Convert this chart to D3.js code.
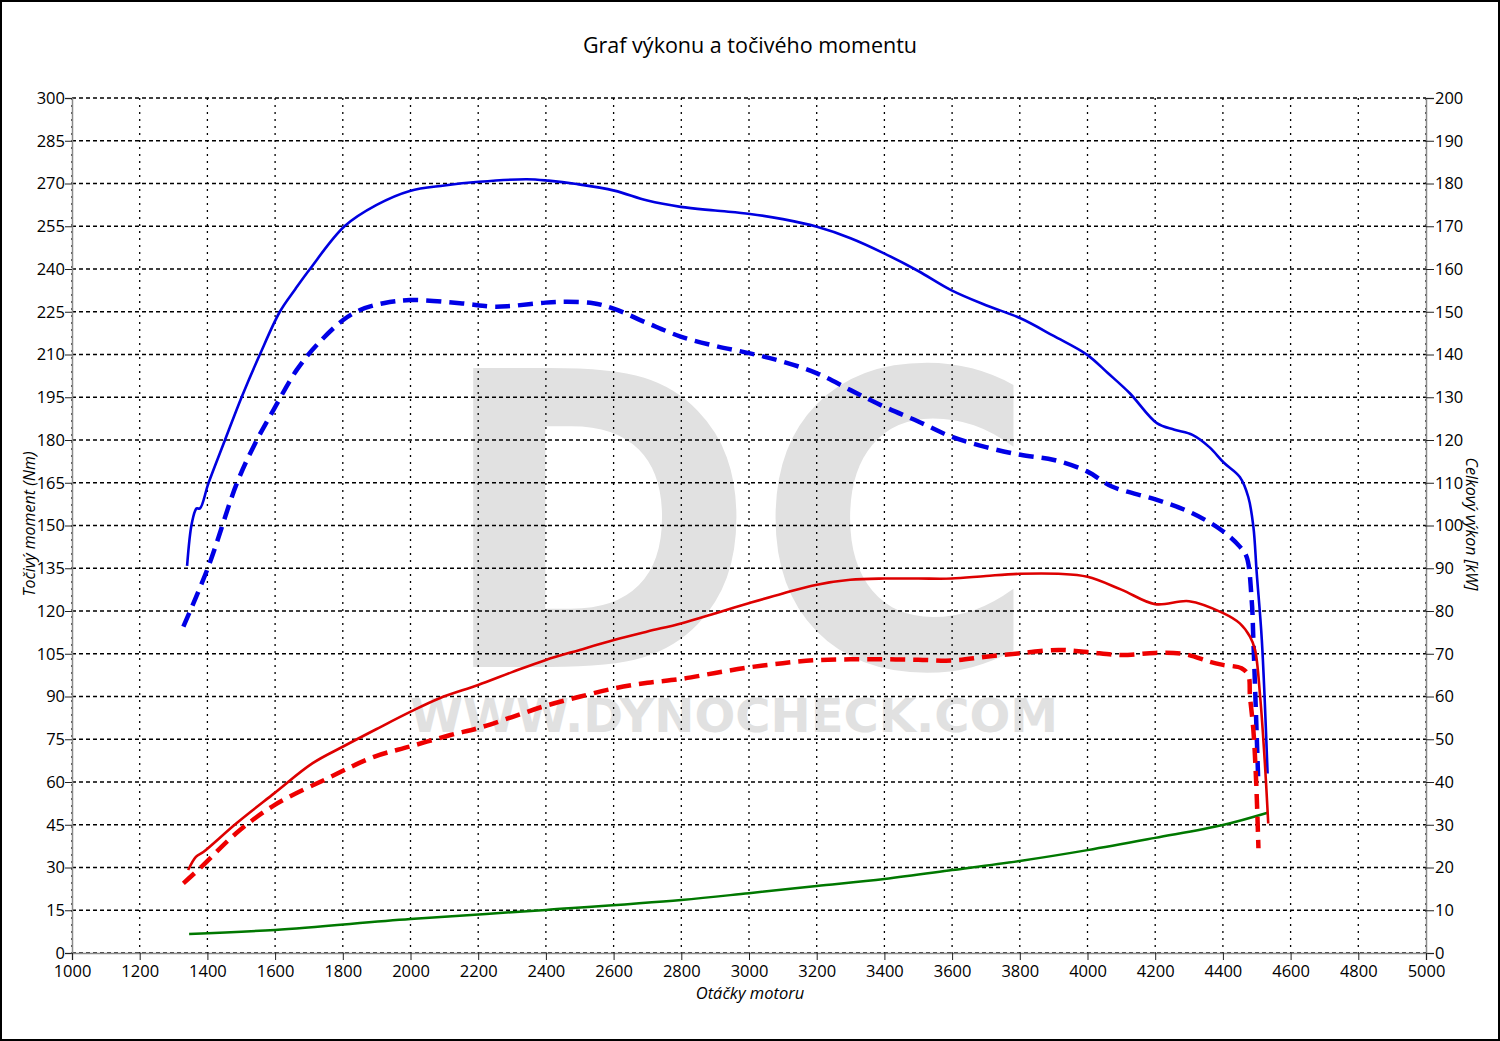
<!DOCTYPE html>
<html>
<head>
<meta charset="utf-8">
<script src="https://cdn.jsdelivr.net/npm/d3@7"></script>
<style>
  body { margin: 0; background: #fff; }
  text { font-family: "Open Sans", "Noto Sans", sans-serif; }
</style>
</head>
<body>
<div id="chart"></div>
<script>
// tick values
var rpmTicks = d3.range(1000, 5001, 200);
var torqueTicks = d3.range(0, 301, 15);
var powerTicks = d3.range(0, 201, 10);

// tuned torque (Nm) - solid blue
var torqueTunedRpm = [1340,1354,1368,1378,1403,1452,1501,1555,1614,1660,1703,1805,1900,1998,2100,2202,2343,2408,2491,2602,2700,2798,2900,3003,3100,3201,3300,3399,3500,3597,3700,3802,3900,4000,4060,4125,4205,4257,4310,4360,4403,4450,4475,4490,4500,4515,4532];
var torqueTuned = [135.8,150.8,156,156,164.8,180,195,210,225,233,240,255,262.5,267.4,269.3,270.6,271.5,271,269.8,267.5,264,261.8,260.5,259.3,257.5,254.8,250.8,245.5,239.3,232.6,227.3,222.7,216.5,209.8,203.5,196.4,185.9,183.6,181.8,177.5,172,167,160,149.6,133.2,109.8,63];

// stock torque (Nm) - dashed blue
var torqueStockRpm = [1329,1403,1487,1541,1595,1664,1723,1801,1851,1920,1998,2146,2245,2294,2399,2461,2540,2602,2700,2798,2900,3003,3100,3201,3300,3399,3500,3597,3700,3802,3901,4000,4072,4205,4310,4400,4450,4470,4485,4490,4504];
var torqueStock = [114.5,135.6,164.8,178.8,190.5,204.6,213.3,222.1,225.6,228,229.1,228,226.8,227,228.2,228.5,228,226,221,216.3,213,210.4,207.5,203.4,197.5,191.7,186.5,181.2,177.5,174.8,173,168.9,163.7,159,154.3,148,142.6,139,123.9,109.8,61.9];

// tuned power (kW) - solid red
var powerTunedRpm = [1343,1366,1389,1485,1598,1711,1801,1900,1999,2086,2200,2300,2398,2500,2601,2700,2799,2902,2999,3100,3197,3299,3400,3500,3598,3700,3800,3914,4000,4100,4200,4300,4401,4450,4480,4495,4510,4524,4534];
var powerTuned = [19.4,22.5,23.7,30.3,37.4,44.4,48.3,52.4,56.4,59.6,62.7,65.7,68.5,70.9,73.2,75.2,77.1,79.5,81.8,84.1,86.1,87.3,87.6,87.6,87.6,88.2,88.7,88.7,88,85,81.6,82.3,79.5,77.1,74,70.9,60,44.4,30.3];

// stock power (kW) - dashed red
var powerStockRpm = [1329,1383,1485,1598,1756,1892,1999,2118,2200,2300,2398,2502,2602,2700,2799,2900,2999,3100,3197,3300,3400,3500,3598,3700,3800,3914,4000,4100,4200,4288,4362,4400,4455,4475,4480,4490,4498,4502,4505];
var powerStock = [16.3,20.2,28,34.6,40.9,45.9,48.3,51,52.6,55.2,57.8,60,61.9,63.2,64.1,65.5,66.8,67.8,68.5,68.7,68.7,68.6,68.4,69.3,70.1,70.9,70.4,69.7,70.2,69.9,68.1,67.4,66.6,65,60,52.2,40.5,31.9,24.5];

// drag loss (Nm) - green
var lossRpm = [1346,1600,2000,2400,2800,3000,3200,3400,3600,3800,4000,4200,4400,4532];
var lossTorque = [6.7,8.1,11.9,15.1,18.6,21,23.5,26,29.1,32.3,36.1,40.4,44.9,49.2];

var W = 1500, H = 1041;
var m = {top: 98, right: 74, bottom: 88, left: 72};
var w = W - m.left - m.right, h = H - m.top - m.bottom;

var svg = d3.select("#chart").append("svg")
    .attr("width", W)
    .attr("height", H);

// outer frame
svg.append("rect")
    .attr("x", 1).attr("y", 1)
    .attr("width", W - 2).attr("height", H - 2)
    .attr("fill", "#fff")
    .attr("stroke", "#000")
    .attr("stroke-width", 2);

var g = svg.append("g")
    .attr("transform", "translate(" + m.left + "," + m.top + ")");

var x = d3.scaleLinear().domain([1000, 5000]).range([0, w]);
var yT = d3.scaleLinear().domain([0, 300]).range([h, 0]);
var yP = d3.scaleLinear().domain([0, 200]).range([h, 0]);

// watermark
g.append("text")
    .attr("x", 366).attr("y", 569)
    .attr("textLength", 600)
    .attr("lengthAdjust", "spacingAndGlyphs")
    .style("font-family", "DejaVu Sans")
    .style("font-weight", "bold")
    .style("font-size", "410px")
    .attr("fill", "#e1e1e1")
    .text("DC");
g.append("text")
    .attr("x", 338).attr("y", 634)
    .attr("textLength", 648)
    .attr("lengthAdjust", "spacingAndGlyphs")
    .style("font-family", "DejaVu Sans")
    .style("font-weight", "bold")
    .style("font-size", "47px")
    .attr("fill", "#e1e1e1")
    .text("WWW.DYNOCHECK.COM");

// grid
g.append("g").selectAll("line")
    .data(rpmTicks)
    .enter().append("line")
    .attr("x1", function(d){ return x(d); })
    .attr("x2", function(d){ return x(d); })
    .attr("y1", 0).attr("y2", h)
    .attr("stroke", "#000")
    .attr("stroke-width", 1.3)
    .attr("stroke-dasharray", "2,5");
g.append("g").selectAll("line")
    .data(torqueTicks)
    .enter().append("line")
    .attr("x1", 0).attr("x2", w)
    .attr("y1", function(d){ return yT(d); })
    .attr("y2", function(d){ return yT(d); })
    .attr("stroke", "#000")
    .attr("stroke-width", 1.3)
    .attr("stroke-dasharray", "4,3");

// axes
var axL = g.append("g")
    .call(d3.axisLeft(yT).tickValues(torqueTicks).tickSize(7).tickPadding(0));
var axR = g.append("g")
    .attr("transform", "translate(" + w + ",0)")
    .call(d3.axisRight(yP).tickValues(powerTicks).tickSize(8).tickPadding(1));
var axB = g.append("g")
    .attr("transform", "translate(0," + h + ")")
    .call(d3.axisBottom(x).tickValues(rpmTicks).tickFormat(d3.format("d")).tickSize(7).tickPadding(5));
[axL, axR, axB].forEach(function(a){
  a.selectAll("path").attr("stroke", "#8a8a8a").attr("stroke-width", 1.5);
  a.selectAll("line").attr("stroke", "#222");
  a.selectAll("text").attr("fill", "#000").style("font-size", "16.5px")
    .style("font-family", "'Open Sans', 'Noto Sans', sans-serif");
});

// curves
function draw(rpm, vals, scale, color, width, dash){
  var pts = rpm.map(function(r, i){ return [r, vals[i]]; });
  var line = d3.line()
      .x(function(d){ return x(d[0]); })
      .y(function(d){ return scale(d[1]); })
      .curve(d3.curveCatmullRom.alpha(0.5));
  g.append("path")
      .datum(pts)
      .attr("d", line)
      .attr("fill", "none")
      .attr("stroke", color)
      .attr("stroke-width", width)
      .attr("stroke-dasharray", dash);
}
draw(lossRpm, lossTorque, yT, "#007800", 2.5, null);
draw(torqueStockRpm, torqueStock, yT, "#0000e6", 4.5, "15,8");
draw(torqueTunedRpm, torqueTuned, yT, "#0000e0", 2.6, null);
draw(powerStockRpm, powerStock, yP, "#ee0000", 4.5, "15,8");
draw(powerTunedRpm, powerTuned, yP, "#dd0000", 2.6, null);

// titles
svg.append("text")
    .attr("x", 750).attr("y", 53)
    .attr("text-anchor", "middle")
    .style("font-size", "21.5px")
    .text("Graf výkonu a točivého momentu");
svg.append("text")
    .attr("x", 750).attr("y", 999)
    .attr("text-anchor", "middle")
    .style("font-size", "16.5px")
    .style("font-style", "italic")
    .text("Otáčky motoru");
svg.append("text")
    .attr("transform", "translate(35,524) rotate(-90)")
    .attr("text-anchor", "middle")
    .style("font-size", "16px")
    .style("font-style", "italic")
    .text("Točivý moment (Nm)");
svg.append("text")
    .attr("transform", "translate(1466,524) rotate(90)")
    .attr("text-anchor", "middle")
    .style("font-size", "16px")
    .style("font-style", "italic")
    .text("Celkový výkon [kW]");
</script>
</body>
</html>
